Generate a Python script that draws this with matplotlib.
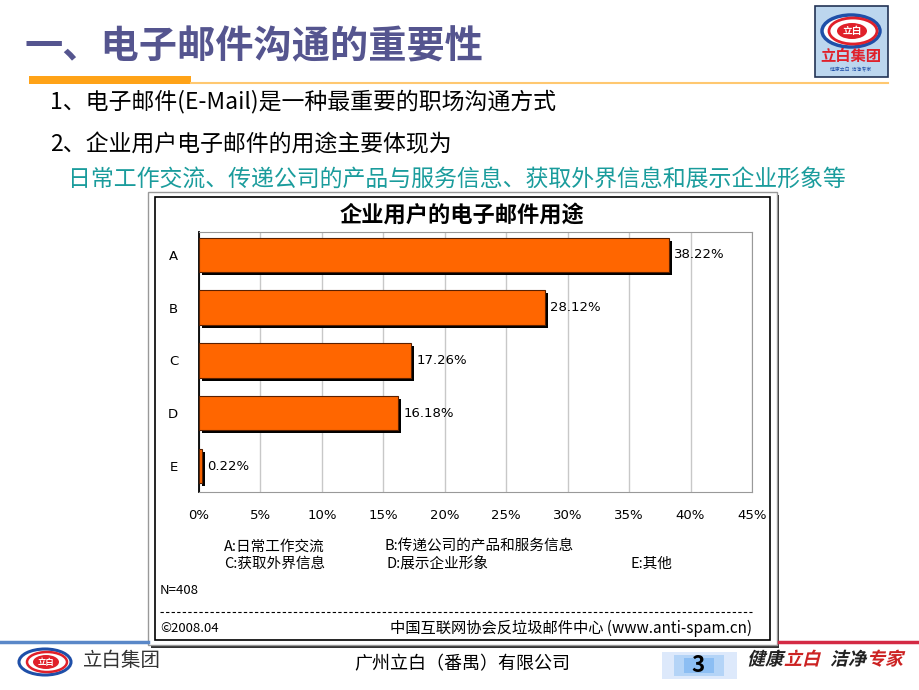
import matplotlib
matplotlib.use("Agg")
import matplotlib.pyplot as plt
import matplotlib.patheffects as pe
from matplotlib.patches import Rectangle, Ellipse, PathPatch
from matplotlib.textpath import TextPath
from matplotlib.font_manager import FontProperties
from matplotlib.transforms import Affine2D

plt.rcParams['font.family'] = ['Noto Sans CJK SC', 'DejaVu Sans']

# Chart data
categories = ["A", "B", "C", "D", "E"]
values = [38.22, 28.12, 17.26, 16.18, 0.22]
x_ticks = [0, 5, 10, 15, 20, 25, 30, 35, 40, 45]

# Slide texts
title = "一、电子邮件沟通的重要性"
line1 = "1、电子邮件(E-Mail)是一种最重要的职场沟通方式"
line2 = "2、企业用户电子邮件的用途主要体现为"
line3 = "日常工作交流、传递公司的产品与服务信息、获取外界信息和展示企业形象等"
chart_title = "企业用户的电子邮件用途"
legend_rows = [
    [("A:日常工作交流", 224), ("B:传递公司的产品和服务信息", 385)],
    [("C:获取外界信息", 224), ("D:展示企业形象", 387), ("E:其他", 631)],
]
sample_note = "N=408"
copyright_note = "©2008.04"
source_note = "中国互联网协会反垃圾邮件中心 (www.anti-spam.cn)"
footer_company = "广州立白（番禺）有限公司"
page_no = "3"
slogan = [("健康", "#222222"), ("立白", "#cc2222"), ("洁净", "#222222"), ("专家", "#cc2222")]

W, H = 920, 690
fig = plt.figure(figsize=(W / 100, H / 100), dpi=100)
fig.patch.set_facecolor("white")

# Full-slide axes in pixel coordinates
bg = fig.add_axes([0, 0, 1, 1])
bg.set_xlim(0, W)
bg.set_ylim(H, 0)
bg.axis("off")


def italic_text(ax, x, y, s, size, color):
    """Draw slanted text as a path (CJK fonts have no italic)."""
    tp = TextPath((0, 0), s, size=size, prop=FontProperties(family="Noto Sans CJK SC", weight="bold"))
    tr = Affine2D().skew_deg(14, 0).scale(1, -1).translate(x, y)
    ax.add_patch(PathPatch(tr.transform_path(tp), facecolor=color, edgecolor="none"))


# Title + underline
bg.text(25, 47, title, fontsize=27.5, fontweight="bold", color="#55558f", va="center", ha="left")
bg.add_patch(Rectangle((29, 76), 162, 8, color="#ffa318", lw=0))
bg.plot([191, 888], [83, 83], color="#ffc870", lw=1.5)

# Top-right logo
bg.add_patch(Rectangle((815, 6), 73, 71, facecolor="#bcd6ee", edgecolor="#223355", lw=1.2))
bg.add_patch(Ellipse((851, 31), 58, 32, facecolor="white", edgecolor="#1f4fa8", lw=2.5))
bg.add_patch(Ellipse((853, 31), 48, 26, facecolor="none", edgecolor="#e0202a", lw=2))
bg.add_patch(Ellipse((852, 31), 30, 16, facecolor="#e0202a", edgecolor="none"))
bg.text(852, 31, "立白", fontsize=7, fontweight="bold", color="white", ha="center", va="center")
bg.text(851, 56, "立白集团", fontsize=11, fontweight="bold", color="#e0202a", ha="center", va="center")
bg.text(851, 70, "健康立白  洁净专家", fontsize=3.5, color="#1f4fa8", ha="center", va="center")

# Bullet lines
bg.text(50, 101, line1, fontsize=16.5, color="black", va="center")
bg.text(50, 145, line2, fontsize=16.5, color="black", va="center")
bg.text(68, 179, line3, fontsize=16.5, color="#1a9c9c", va="center")

# Chart frame
bg.add_patch(Rectangle((151, 195), 628, 453, facecolor="#333333", lw=0))
bg.add_patch(Rectangle((148, 192), 629, 453, facecolor="white", edgecolor="#999999", lw=1))
bg.add_patch(Rectangle((155, 197), 615, 443, facecolor="white", edgecolor="black", lw=1.2))
bg.text(462, 215, chart_title, fontsize=16, fontweight="bold", color="black", ha="center", va="center")

for row, yy in zip(legend_rows, [551, 568]):
    for txt, xx in row:
        bg.text(xx, yy, txt, fontsize=10.5, color="black", va="baseline")
bg.text(160, 590, sample_note, fontsize=9.5, va="center")
bg.plot([160, 752], [612, 612], color="black", lw=0.8, ls=(0, (3, 2)))
bg.text(160, 628, copyright_note, fontsize=9.5, va="center")
bg.text(752, 628, source_note, fontsize=11, va="center", ha="right")

# Footer
bg.plot([0, 148], [642, 642], color="#5a88c8", lw=2.5)
bg.plot([779, 920], [642, 642], color="#d42a44", lw=2.5)
bg.add_patch(Ellipse((45, 662), 52, 26, facecolor="white", edgecolor="#1f4fa8", lw=2.2))
bg.add_patch(Ellipse((47, 662), 40, 20, facecolor="none", edgecolor="#e0202a", lw=1.8))
bg.add_patch(Ellipse((46, 662), 26, 14, facecolor="#e0202a", edgecolor="none"))
bg.text(46, 662, "立白", fontsize=6, fontweight="bold", color="white", ha="center", va="center")
bg.text(83, 661, "立白集团", fontsize=14, color="#333333", va="center")
bg.text(462, 664, footer_company, fontsize=13, color="black", ha="center", va="center")
bg.add_patch(Rectangle((662, 652), 75, 27, facecolor="#dde9fb", lw=0))
bg.add_patch(Rectangle((674, 655), 50, 21, facecolor="#b4d4f7", lw=0))
bg.add_patch(Rectangle((684, 658), 30, 15, facecolor="#8cbef3", lw=0))
bg.text(698, 666, page_no, fontsize=16, fontweight="bold", color="black", ha="center", va="center")
sx = 747
for i, (part, col) in enumerate(slogan):
    italic_text(bg, sx, 665, part, 18, col)
    sx += 37 + (9 if i == 1 else 0)

# Bar chart
ax = fig.add_axes([199 / W, 1 - 492 / H, 553 / W, 260 / H])
ax.set_facecolor("white")
ypos = list(range(len(categories)))
ax.barh(ypos, values, height=0.65, color="#ff6600", edgecolor="#5a2000", linewidth=0.8,
        path_effects=[pe.SimplePatchShadow(offset=(2.2, -2.2), shadow_rgbFace="black", alpha=1.0),
                      pe.Normal()], zorder=3)
for yv, v in zip(ypos, values):
    ax.annotate(f"{v:.2f}%", (v, yv), xytext=(4, 0), textcoords="offset points",
                va="center", ha="left", fontsize=9.5, family="DejaVu Sans")

ax.set_xlim(0, 45)
ax.set_ylim(4.49, -0.43)
ax.set_xticks(x_ticks)
ax.set_xticklabels([f"{t}%" for t in x_ticks], family="DejaVu Sans")
ax.set_yticks(ypos)
ax.set_yticklabels(categories, family="DejaVu Sans")
ax.tick_params(axis="x", length=0, pad=12, labelsize=9.5)
ax.tick_params(axis="y", length=0, pad=15, labelsize=9.5)
ax.grid(axis="x", color="#c8c8c8", lw=1)
ax.set_axisbelow(True)
for side in ["top", "right", "bottom"]:
    ax.spines[side].set_color("#999999")
ax.spines["left"].set_color("black")
ax.spines["left"].set_linewidth(1.3)

fig.savefig("out.png", dpi=100)
